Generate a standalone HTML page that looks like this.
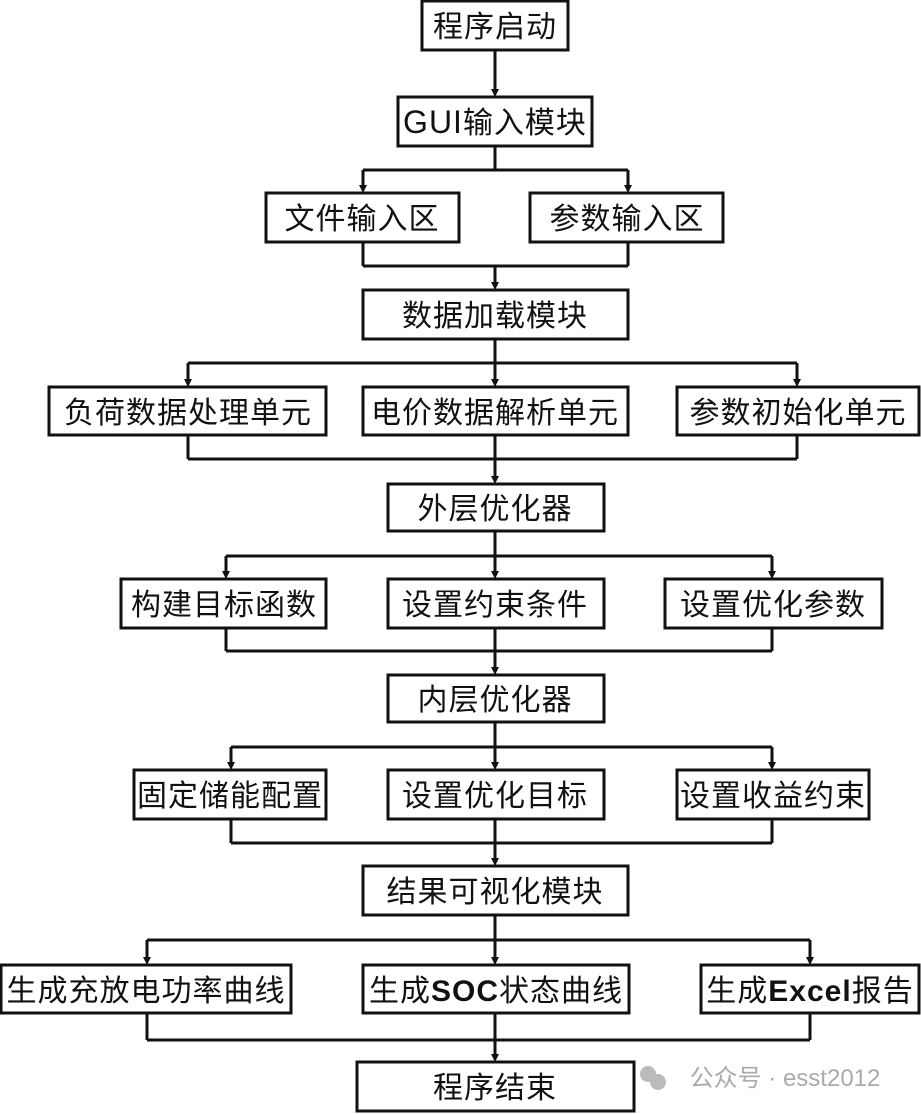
<!DOCTYPE html>
<html><head><meta charset="utf-8"><style>
html,body{margin:0;padding:0;background:#fff}
svg{display:block}
text{font-family:"Liberation Sans","Noto Sans CJK SC",sans-serif;font-size:30px;letter-spacing:1px;fill:#111;text-anchor:middle}
rect{fill:#fff;stroke:#111;stroke-width:3}
line{stroke:#111;stroke-width:3}
polygon{fill:#111}
</style></head><body>
<svg width="921" height="1114" viewBox="0 0 921 1114">
<g>
<line x1="495" y1="50" x2="495" y2="92"/>
<line x1="495" y1="146" x2="495" y2="170"/><line x1="363" y1="170" x2="628" y2="170"/>
<line x1="363" y1="170" x2="363" y2="188"/><line x1="628" y1="170" x2="628" y2="188"/>
<line x1="363" y1="242" x2="363" y2="266"/><line x1="628" y1="242" x2="628" y2="266"/><line x1="363" y1="266" x2="628" y2="266"/>
<line x1="495" y1="266" x2="495" y2="285"/>
<line x1="495" y1="339" x2="495" y2="363"/><line x1="188" y1="363" x2="797" y2="363"/>
<line x1="188" y1="363" x2="188" y2="382"/><line x1="495" y1="363" x2="495" y2="382"/><line x1="797" y1="363" x2="797" y2="382"/>
<line x1="188" y1="435" x2="188" y2="459"/><line x1="495" y1="435" x2="495" y2="459"/><line x1="797" y1="435" x2="797" y2="459"/><line x1="188" y1="459" x2="797" y2="459"/>
<line x1="495" y1="459" x2="495" y2="479"/>
<line x1="495" y1="531" x2="495" y2="556"/><line x1="226" y1="556" x2="772" y2="556"/>
<line x1="226" y1="556" x2="226" y2="574"/><line x1="495" y1="556" x2="495" y2="574"/><line x1="772" y1="556" x2="772" y2="574"/>
<line x1="226" y1="628" x2="226" y2="651"/><line x1="495" y1="628" x2="495" y2="651"/><line x1="772" y1="628" x2="772" y2="651"/><line x1="226" y1="651" x2="772" y2="651"/>
<line x1="495" y1="651" x2="495" y2="670"/>
<line x1="495" y1="722" x2="495" y2="747"/><line x1="231" y1="747" x2="772" y2="747"/>
<line x1="231" y1="747" x2="231" y2="765"/><line x1="495" y1="747" x2="495" y2="765"/><line x1="772" y1="747" x2="772" y2="765"/>
<line x1="231" y1="819" x2="231" y2="843"/><line x1="495" y1="819" x2="495" y2="843"/><line x1="772" y1="819" x2="772" y2="843"/><line x1="231" y1="843" x2="772" y2="843"/>
<line x1="495" y1="843" x2="495" y2="861"/>
<line x1="495" y1="915" x2="495" y2="940"/><line x1="147" y1="940" x2="810" y2="940"/>
<line x1="147" y1="940" x2="147" y2="960"/><line x1="495" y1="940" x2="495" y2="960"/><line x1="810" y1="940" x2="810" y2="960"/>
<line x1="147" y1="1013" x2="147" y2="1040"/><line x1="495" y1="1013" x2="495" y2="1040"/><line x1="810" y1="1013" x2="810" y2="1040"/><line x1="147" y1="1040" x2="810" y2="1040"/>
<line x1="495" y1="1040" x2="495" y2="1057"/>
</g>
<g>
<polygon points="491,89 499,89 495,97"/>
<polygon points="359,185 367,185 363,193"/><polygon points="624,185 632,185 628,193"/>
<polygon points="491,282 499,282 495,290"/>
<polygon points="184,379 192,379 188,387"/><polygon points="491,379 499,379 495,387"/><polygon points="793,379 801,379 797,387"/>
<polygon points="491,476 499,476 495,484"/>
<polygon points="222,571 230,571 226,579"/><polygon points="491,571 499,571 495,579"/><polygon points="768,571 776,571 772,579"/>
<polygon points="491,667 499,667 495,675"/>
<polygon points="227,762 235,762 231,770"/><polygon points="491,762 499,762 495,770"/><polygon points="768,762 776,762 772,770"/>
<polygon points="491,858 499,858 495,866"/>
<polygon points="143,957 151,957 147,965"/><polygon points="491,957 499,957 495,965"/><polygon points="806,957 814,957 810,965"/>
<polygon points="491,1054 499,1054 495,1062"/>
</g>
<rect x="422" y="1" width="146" height="49"/><text x="495" y="37">程序启动</text>
<rect x="398" y="97" width="194" height="49"/><text x="495" y="133"><tspan font-size="32">GUI</tspan>输入模块</text>
<rect x="266" y="193" width="193" height="49"/><text x="362" y="229">文件输入区</text>
<rect x="530" y="193" width="193" height="49"/><text x="627" y="229">参数输入区</text>
<rect x="363" y="290" width="265" height="49"/><text x="495" y="326">数据加载模块</text>
<rect x="49" y="387" width="277" height="48"/><text x="188" y="423">负荷数据处理单元</text>
<rect x="363" y="387" width="265" height="48"/><text x="495" y="423">电价数据解析单元</text>
<rect x="677" y="387" width="242" height="48"/><text x="798" y="423">参数初始化单元</text>
<rect x="388" y="484" width="216" height="47"/><text x="495" y="519">外层优化器</text>
<rect x="121" y="579" width="205" height="49"/><text x="224" y="615">构建目标函数</text>
<rect x="388" y="579" width="216" height="49"/><text x="495" y="615">设置约束条件</text>
<rect x="665" y="579" width="217" height="49"/><text x="773" y="615">设置优化参数</text>
<rect x="388" y="675" width="216" height="47"/><text x="495" y="710">内层优化器</text>
<rect x="134" y="770" width="192" height="49"/><text x="230" y="806">固定储能配置</text>
<rect x="388" y="770" width="216" height="49"/><text x="495" y="806">设置优化目标</text>
<rect x="677" y="770" width="192" height="49"/><text x="773" y="806">设置收益约束</text>
<rect x="363" y="866" width="265" height="49"/><text x="495" y="902">结果可视化模块</text>
<rect x="1" y="965" width="290" height="48"/><text x="146" y="1001" letter-spacing="2">生成充放电功率曲线</text>
<rect x="363" y="965" width="266" height="48"/><text x="496" y="1001">生成<tspan font-weight="bold">SOC</tspan>状态曲线</text>
<rect x="701" y="965" width="218" height="48"/><text x="810" y="1001">生成<tspan font-weight="bold">Excel</tspan>报告</text>
<rect x="357" y="1062" width="277" height="49"/><text x="495" y="1098">程序结束</text>
<circle cx="648" cy="1074" r="8" fill="#bbb"/><circle cx="658" cy="1082" r="8" fill="#bbb"/>
<text x="785" y="1086" style="font-size:24px;fill:#aaa;letter-spacing:0">公众号 · esst2012</text>
</svg>
</body></html>
